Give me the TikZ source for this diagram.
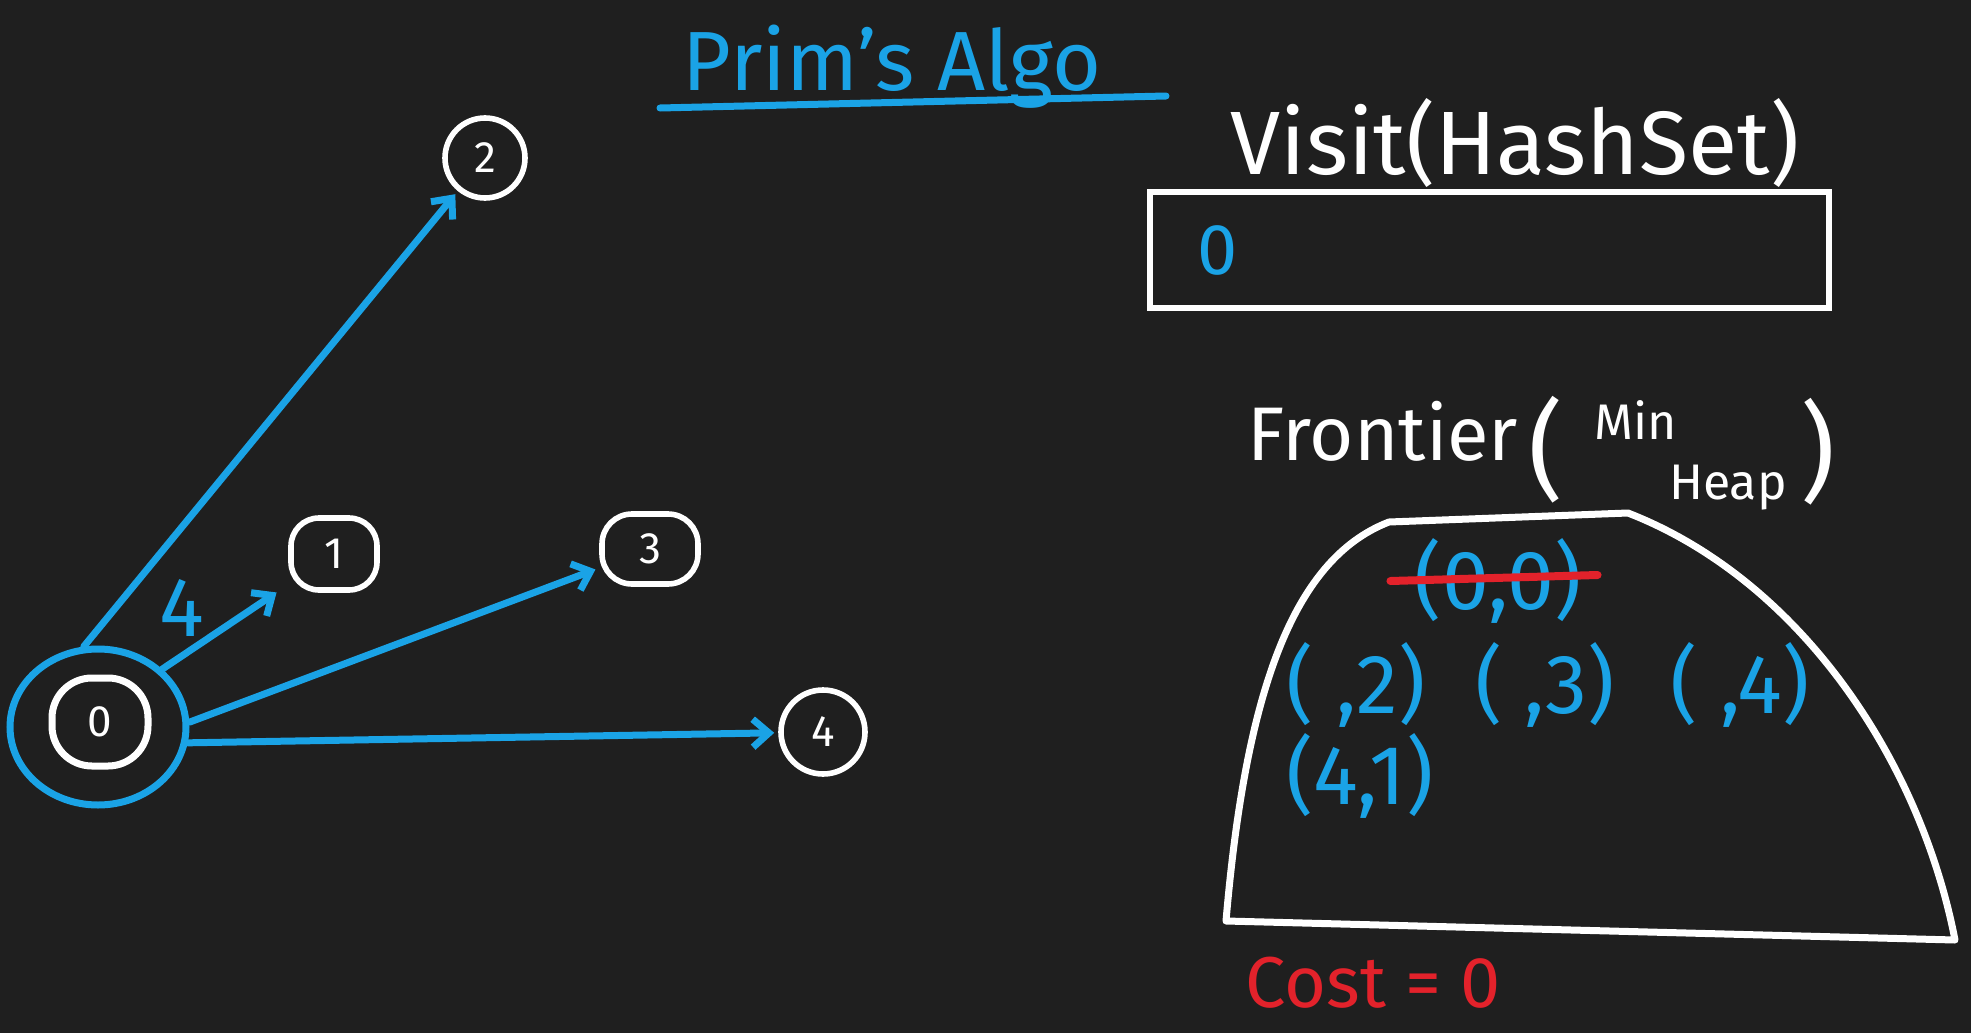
\documentclass[tikz,border=0pt]{standalone}
\usepackage{fontspec}
\setmainfont{Fira Sans}
\usepackage{tikz}
\usetikzlibrary{arrows.meta,positioning,shapes.geometric}
\definecolor{boardbg}{HTML}{1F1F1F}
\definecolor{penblue}{HTML}{1AA3E6}
\definecolor{penred}{HTML}{E3222B}

\begin{document}
\begin{tikzpicture}[x=0.5pt, y=-0.5pt,
    vert/.style={draw=white, line width=2.8pt, text=white, inner sep=0pt,
    font=\fontsize{22}{24}\selectfont},
    arr/.style={-{Straight Barb[length=8pt,width=14pt]}, line width=3.5pt, draw=penblue,
    line cap=round, shorten >=2pt},
    ink/.style={inner sep=0pt, font=\fontsize{42}{44}\selectfont}]
\fill[boardbg] (0,0) rectangle (1971,1033);
\useasboundingbox (0,0) rectangle (1971,1033);
% graph
\node[vert, circle, minimum size=40pt] (n2) at (485,158) {2};
\node[vert, rectangle, rounded corners=14pt, minimum width=43pt, minimum height=36pt] (n1) at (334,554) {1};
\node[vert, rectangle, rounded corners=15pt, minimum width=48pt, minimum height=35pt] (n3) at (650,549) {3};
\node[vert, circle, minimum size=42pt] (n4) at (823,732) {4};
\node[vert, rectangle, rounded corners=20pt, minimum width=48pt, minimum height=44pt, line width=3.5pt] (n0) at (100,722) {0};
\node[draw=penblue, line width=3.5pt, ellipse, minimum width=88pt, minimum height=78pt] (ring) at (98,727) {};
\foreach \a/\t in {100/n2, 3/n3, 350/n4} {
  \draw[arr] (ring.\a) -- (\t);
}
\draw[arr, shorten >=7pt] (ring.42) -- (n1)
  node[pos=0.3, above left=2pt and -4pt, ink, text=penblue] (w01) {4};
% title
\node[text=penblue, font=\fontsize{42}{44}\selectfont, anchor=base] (title) at (892,90) {Prim's Algo};
\draw[penblue, line width=3.5pt, line cap=round] (660,108) -- (1166,96);
% visit set
\node[text=white, font=\fontsize{45}{47}\selectfont, anchor=base] (visitlbl) at (1515,174) {Visit(HashSet)};
\node[draw=white, line width=3pt, minimum width=339.5pt, minimum height=58pt, inner sep=0pt] (visit) at (1489.5,250) {};
\node[ink, text=penblue, font=\fontsize{36}{38}\selectfont, right=25pt of visit.west] (v0) {0};
% frontier heap
\node[text=white, font=\fontsize{38}{40}\selectfont, anchor=base] (front) at (1383,460) {Frontier};
\node[text=white, font=\fontsize{54}{56}\selectfont] (lpar) at (1546,450) {(};
\node[text=white, inner sep=0pt, font=\fontsize{25}{27}\selectfont] (minlbl) at (1636,420) {Min};
\node[text=white, inner sep=0pt, font=\fontsize{25}{27}\selectfont] (heaplbl) at (1728,488) {Heap};
\node[text=white, font=\fontsize{54}{56}\selectfont] (rpar) at (1818,452) {)};
\draw[white, line width=3.5pt, line join=round]
  (1226,921) .. controls (1245,700) and (1290,560) .. (1389,522) -- (1628,513)
  .. controls (1800,580) and (1920,760) .. (1955,940) -- cycle;
\node[ink, text=penblue] (e00) at (1498,581) {(0,0)};
\draw[penred, line width=4pt, line cap=round] ([xshift=-12pt]e00.west) -- ([xshift=8pt, yshift=3pt]e00.east);
\node[ink, text=penblue] (e2) at (1356,685) {( ,2)};
\node[ink, text=penblue] (e3) at (1545,685) {( ,3)};
\node[ink, text=penblue] (e4) at (1740,685) {( ,4)};
\node[ink, text=penblue] (e41) at (1360,776) {(4,1)};
\node[text=penred, font=\fontsize{36}{38}\selectfont] (cost) at (1373,983) {Cost = 0};
\end{tikzpicture}
\end{document}
